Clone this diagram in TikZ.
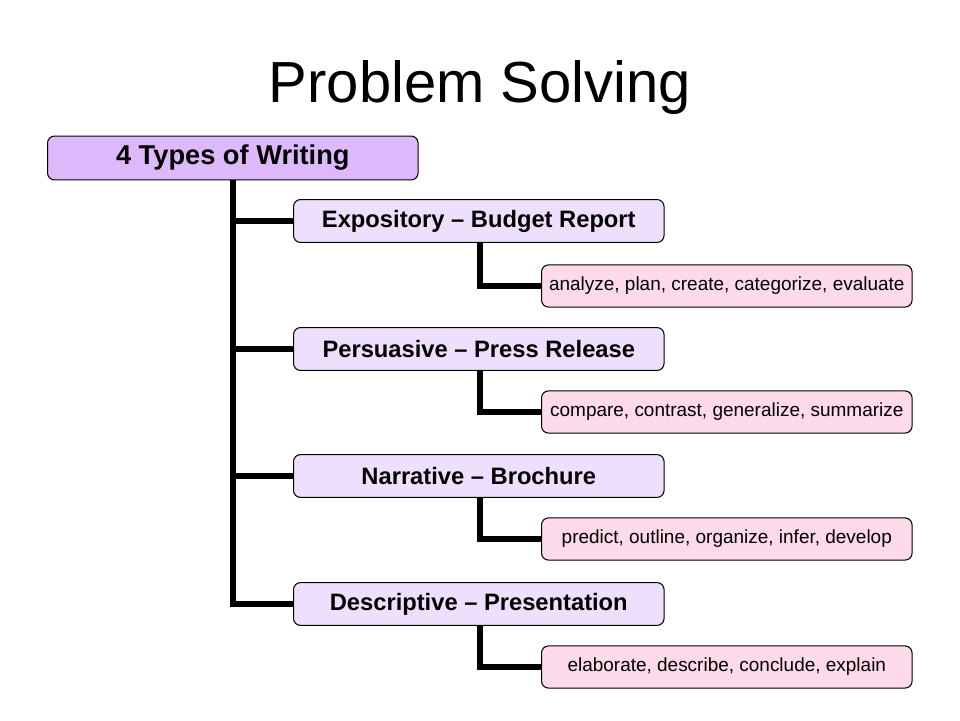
\documentclass[tikz,border=0pt]{standalone}
\usepackage{fontspec}
\setmainfont{Liberation Sans}
\definecolor{rootfill}{HTML}{DDB8FB}
\definecolor{typefill}{HTML}{EEE0FC}
\definecolor{verbfill}{HTML}{FDDAEA}
\tikzset{
  box/.style={draw=black,rounded corners=4pt,line width=0.6pt,minimum width=210.9pt,anchor=west,inner sep=0pt},
  rootbox/.style={box,fill=rootfill,minimum height=25pt,font=\bfseries\fontsize{15.5}{17}\selectfont},
  typebox/.style={box,fill=typefill,minimum height=24.4pt,font=\bfseries\fontsize{13.5}{15}\selectfont},
  verbbox/.style={box,fill=verbfill,minimum height=24pt,font=\fontsize{10.8}{12}\selectfont},
  link/.style={line width=3.4pt}
}
\begin{document}
\begin{tikzpicture}[x=0.02cm,y=-0.02cm]
\useasboundingbox (0,0) rectangle (960,720);
\node (title) at (480,88) {\fontsize{33}{38}\selectfont Problem Solving};
\node[rootbox] (root) at (47,158) {4 Types of Writing};
% types and their verbs
\node[typebox] (t1) at (293,221) {Expository -- Budget Report};
\node[verbbox] (v1) at (541,286) {analyze, plan, create, categorize, evaluate};
\node[typebox] (t2) at (293,349) {Persuasive -- Press Release};
\node[verbbox] (v2) at (541,412) {compare, contrast, generalize, summarize};
\node[typebox] (t3) at (293,476) {Narrative -- Brochure};
\node[verbbox] (v3) at (541,539) {predict, outline, organize, infer, develop};
\node[typebox] (t4) at (293,604) {Descriptive -- Presentation};
\node[verbbox] (v4) at (541,667) {elaborate, describe, conclude, explain};
% connectors
\coordinate (trunk) at (233,0);
\draw[link] (root.south -| trunk) |- (t4.west);
\foreach \i in {1,2,3} \draw[link] (t\i.west -| trunk) -- (t\i.west);
\coordinate (sub) at (480,0);
\foreach \i in {1,2,3,4} \draw[link] (t\i.south -| sub) |- (v\i.west);
\end{tikzpicture}
\end{document}
